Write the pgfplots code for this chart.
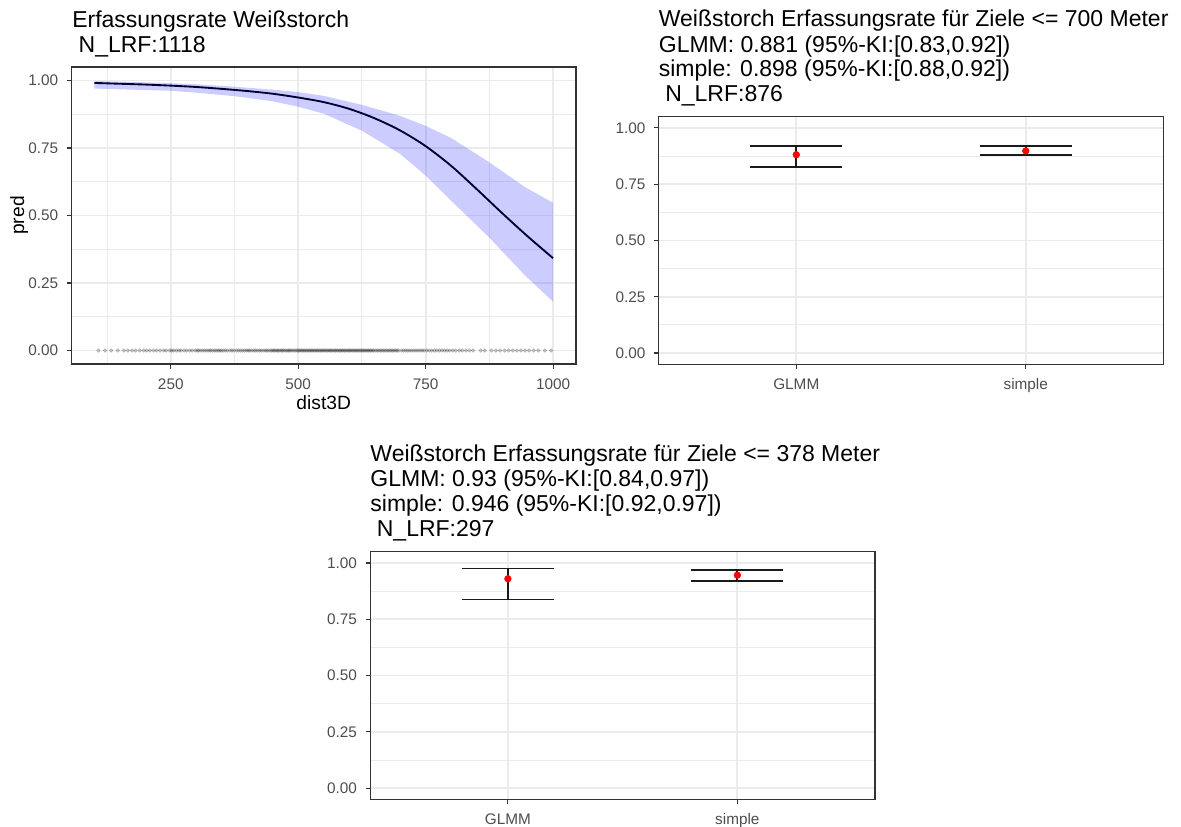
\documentclass[border=0pt]{standalone}
\usepackage{fontspec}
\setmainfont{Liberation Sans}
\usepackage{pgfplots}
\pgfplotsset{compat=1.18}
\usepackage{pgfplotstable}
\definecolor{gridc}{HTML}{EBEBEB}
\definecolor{borderc}{HTML}{333333}
\definecolor{tickc}{HTML}{4D4D4D}
\definecolor{linec}{HTML}{000033}
\definecolor{errc}{HTML}{1A1A1A}
\newcommand{\ttl}{\fontsize{17.25pt}{18.75pt}\selectfont}

\pgfplotstableread{
x y
100 0.991
150 0.988
200 0.985
250 0.981
300 0.976
350 0.969
400 0.961
450 0.951
500 0.937
550 0.920
600 0.895
650 0.860
700 0.815
750 0.757
800 0.684
850 0.598
900 0.509
950 0.423
1000 0.342
}\curvedata

\pgfplotstableread{
x y
100 0.998
175 0.995
250 0.990
300 0.986
375 0.977
450 0.966
500 0.957
550 0.943
625 0.910
700 0.869
750 0.832
800 0.787
875 0.697
945 0.605
1000 0.547
1000 0.181
945 0.278
875 0.418
800 0.555
750 0.648
700 0.728
625 0.814
550 0.877
500 0.903
450 0.923
375 0.942
300 0.955
250 0.962
175 0.966
100 0.970
}\banddata

\pgfplotsset{
 gg/.style={
  scale only axis,
  axis line style={draw=borderc, line width=0.8pt},
  tick style={draw=borderc, line width=0.8pt},
  major tick length=3.4pt, minor tick length=0pt,
  tick align=outside, tick pos=left,
  grid=both,
  major grid style={draw=gridc, line width=1.3pt},
  minor grid style={draw=gridc, line width=0.65pt},
  ymin=-0.05, ymax=1.05,
  ytick={0,0.25,0.5,0.75,1}, yticklabels={0.00,0.25,0.50,0.75,1.00},
  minor ytick={0.125,0.375,0.625,0.875},
  /pgf/number format/assume math mode=true,
  ticklabel style={font=\fontsize{11.5pt}{13pt}\selectfont, text=tickc},
  yticklabel style={anchor=east, inner sep=0pt, xshift=-6.3pt},
  xticklabel style={anchor=north, inner sep=0pt, yshift=-7.2pt},
  label style={font=\fontsize{14.4pt}{16pt}\selectfont, text=black},
 },
 cat/.style={
  gg, xmin=0.4, xmax=2.6, xtick={1,2}, xticklabels={GLMM,simple},
  width=378.6pt, height=185.7pt,
 },
 eb/.style={errc, line width=1.3pt, forget plot},
 pt/.style={only marks, mark=*, mark size=2.5pt, mark options={draw=red, fill=red}},
}

\begin{document}
\begin{tikzpicture}
\path[use as bounding box] (0,0) rectangle (885.75pt,-619.5pt);

% ---------- Panel 1 ----------
\begin{axis}[gg, at={(53.55pt,-50.25pt)}, anchor=north west,
  width=378.45pt, height=222.75pt,
  xmin=55, xmax=1045,
  xtick={250,500,750,1000}, xticklabels={250,500,750,1000},
  minor xtick={125,375,625,875},
  xlabel={dist3D}, ylabel={pred},
  xlabel style={at={(axis description cs:0.5,0)}, anchor=north, inner sep=0pt, yshift=-23.2pt},
  ylabel style={at={(axis description cs:0,0.5)}, anchor=center, inner sep=0pt, yshift=39.2pt},
]
\addplot[only marks, mark=*, mark size=1.4pt, color=black, opacity=0.2] coordinates {
(108,0) (121,0) (133,0) (146,0)
(158,0) (166,0) (174,0) (181,0) (189,0) (197,0)
(203,0) (209,0) (216,0) (222,0) (229,0) (236,0) (241,0) (248,0)
(252,0) (256,0) (261,0) (266,0) (270,0) (276,0) (281,0) (287,0) (292,0) (298,0)
(302,0) (305,0) (309,0) (313,0) (317,0) (321,0) (325,0) (328,0) (332,0) (336,0) (339,0) (343,0) (346,0) (349,0)
(353,0) (357,0) (361,0) (366,0) (370,0) (374,0) (379,0) (383,0) (387,0) (391,0) (395,0) (399,0)
(402,0) (405,0) (409,0) (413,0) (416,0) (420,0) (424,0) (427,0) (431,0) (435,0) (438,0) (441,0) (445,0) (448,0)
(451,0) (453,0) (456,0) (459,0) (461,0) (464,0) (467,0) (469,0) (472,0) (475,0) (478,0) (481,0) (483,0) (486,0) (489,0) (492,0) (495,0) (498,0)
(501,0) (503,0) (506,0) (508,0) (511,0) (513,0) (516,0) (518,0) (521,0) (523,0) (526,0) (528,0) (531,0) (533,0) (536,0) (538,0) (541,0) (543,0) (546,0) (548,0)
(551,0) (553,0) (556,0) (558,0) (561,0) (563,0) (566,0) (568,0) (571,0) (573,0) (576,0) (578,0) (581,0) (583,0) (586,0) (588,0) (591,0) (593,0) (596,0) (598,0)
(601,0) (603,0) (606,0) (608,0) (611,0) (613,0) (616,0) (618,0) (621,0) (623,0) (626,0) (628,0) (631,0) (633,0) (636,0) (638,0) (641,0) (643,0) (646,0) (648,0)
(652,0) (655,0) (658,0) (661,0) (664,0) (667,0) (670,0) (673,0) (676,0) (679,0) (682,0) (685,0) (688,0) (691,0) (694,0) (697,0)
(703,0) (707,0) (711,0) (715,0) (719,0) (723,0) (727,0) (731,0) (735,0) (739,0) (743,0) (747,0)
(752,0) (757,0) (762,0) (767,0) (772,0) (777,0) (782,0) (787,0) (792,0) (797,0)
(803,0) (809,0) (816,0) (822,0) (829,0) (836,0) (843,0)
(858,0) (866,0) (879,0) (888,0) (896,0)
(905,0) (913,0) (921,0) (929,0) (937,0) (945,0)
(953,0) (962,0) (971,0) (984,0) (996,0)
};
\addplot[draw=none, fill=blue, fill opacity=0.2] table {\banddata};
\addplot[linec, line width=1.4pt, smooth] table {\curvedata};
\end{axis}

\node[anchor=base west, inner sep=0pt, font=\ttl] at (54pt,-20.5pt) {Erfassungsrate Weißstorch};
\node[anchor=base west, inner sep=0pt, font=\ttl] at (54pt,-39pt) {\ N\_LRF:1118};

% ---------- Panel 2 ----------
\begin{axis}[cat, at={(493.95pt,-87.5pt)}, anchor=north west]
\addplot[eb] coordinates {(0.8,0.921) (1.2,0.921)};
\addplot[eb] coordinates {(0.8,0.827) (1.2,0.827)};
\addplot[eb] coordinates {(1,0.827) (1,0.921)};
\addplot[eb] coordinates {(1.8,0.919) (2.2,0.919)};
\addplot[eb] coordinates {(1.8,0.879) (2.2,0.879)};
\addplot[eb] coordinates {(2,0.879) (2,0.919)};
\addplot[pt] coordinates {(1,0.881) (2,0.898)};
\end{axis}

\node[anchor=base west, inner sep=0pt, font=\ttl] at (493.95pt,-20pt) {Weißstorch Erfassungsrate für Ziele <= 700 Meter};
\node[anchor=base west, inner sep=0pt, font=\ttl] at (493.95pt,-39.2pt) {GLMM: 0.881 (95\%-KI:[0.83,0.92])};
\node[anchor=base west, inner sep=0pt, font=\ttl] at (493.95pt,-57.5pt) {simple: 0.898 (95\%-KI:[0.88,0.92])};
\node[anchor=base west, inner sep=0pt, font=\ttl] at (493.95pt,-76.3pt) {\ N\_LRF:876};

% ---------- Panel 3 ----------
\begin{axis}[cat, at={(277.65pt,-413.8pt)}, anchor=north west]
\addplot[eb] coordinates {(0.8,0.975) (1.2,0.975)};
\addplot[eb] coordinates {(0.8,0.838) (1.2,0.838)};
\addplot[eb] coordinates {(1,0.838) (1,0.975)};
\addplot[eb] coordinates {(1.8,0.969) (2.2,0.969)};
\addplot[eb] coordinates {(1.8,0.919) (2.2,0.919)};
\addplot[eb] coordinates {(2,0.919) (2,0.969)};
\addplot[pt] coordinates {(1,0.930) (2,0.946)};
\end{axis}

\node[anchor=base west, inner sep=0pt, font=\ttl] at (277.65pt,-346.3pt) {Weißstorch Erfassungsrate für Ziele <= 378 Meter};
\node[anchor=base west, inner sep=0pt, font=\ttl] at (277.65pt,-365pt) {GLMM: 0.93 (95\%-KI:[0.84,0.97])};
\node[anchor=base west, inner sep=0pt, font=\ttl] at (277.65pt,-383.8pt) {simple: 0.946 (95\%-KI:[0.92,0.97])};
\node[anchor=base west, inner sep=0pt, font=\ttl] at (277.65pt,-402pt) {\ N\_LRF:297};

\end{tikzpicture}
\end{document}
